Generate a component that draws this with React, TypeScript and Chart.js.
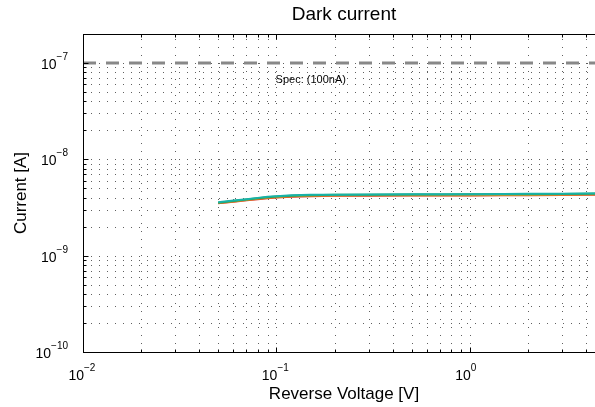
import React, { useEffect, useRef } from 'react';
import { Chart, registerables } from 'chart.js';

Chart.register(...registerables);

// ---- data ----
const voltage = [0.05, 0.06, 0.07, 0.08, 0.09, 0.1, 0.12, 0.15, 0.2, 0.3, 0.5, 0.7, 1, 1.5, 2, 3, 4, 5];
const currentTeal = [3.58e-9, 3.73e-9, 3.86e-9, 3.98e-9, 4.08e-9, 4.15e-9, 4.23e-9, 4.28e-9, 4.3e-9, 4.32e-9, 4.33e-9, 4.34e-9, 4.35e-9, 4.36e-9, 4.38e-9, 4.4e-9, 4.42e-9, 4.45e-9];
const currentGreen = [3.55e-9, 3.7e-9, 3.83e-9, 3.95e-9, 4.05e-9, 4.12e-9, 4.2e-9, 4.25e-9, 4.28e-9, 4.3e-9, 4.31e-9, 4.32e-9, 4.33e-9, 4.34e-9, 4.35e-9, 4.37e-9, 4.4e-9, 4.42e-9];
const currentOrange = [3.52e-9, 3.65e-9, 3.78e-9, 3.89e-9, 3.98e-9, 4.05e-9, 4.13e-9, 4.18e-9, 4.21e-9, 4.23e-9, 4.24e-9, 4.25e-9, 4.25e-9, 4.26e-9, 4.27e-9, 4.29e-9, 4.31e-9, 4.33e-9];
const currentRed = [3.5e-9, 3.62e-9, 3.75e-9, 3.86e-9, 3.95e-9, 4.02e-9, 4.1e-9, 4.15e-9, 4.18e-9, 4.2e-9, 4.21e-9, 4.22e-9, 4.22e-9, 4.23e-9, 4.24e-9, 4.26e-9, 4.28e-9, 4.3e-9];
const specVoltage = [0.01, 5];
const specCurrent = [1e-7, 1e-7];
const specLabel = 'Spec: (100nA)';
const xTickExponents = [-2, -1, 0];
const yTickExponents = [-10, -9, -8, -7];
const xRange = [0.01, 5];
const yRange = [1e-10, 2e-7];

const FONT = '"Liberation Sans", Arial, Helvetica, sans-serif';

const pts = (xs: number[], ys: number[]) => xs.map((x, i) => ({ x, y: ys[i] }));

function logTicks(min: number, max: number): { v: number; major: boolean }[] {
  const out: { v: number; major: boolean }[] = [];
  const e0 = Math.floor(Math.log10(min));
  const e1 = Math.ceil(Math.log10(max));
  for (let e = e0; e <= e1; e++) {
    for (let m = 1; m <= 9; m++) {
      const v = m * Math.pow(10, e);
      if (v >= min * 0.9999 && v <= max * 1.0001) out.push({ v, major: m === 1 });
    }
  }
  return out;
}

const matlabPlugin = {
  id: 'matlabAxes',
  beforeDatasetsDraw(chart: any) {
    const { ctx, chartArea: a } = chart;
    const x = chart.scales.x;
    const y = chart.scales.y;
    ctx.save();
    ctx.beginPath();
    ctx.rect(a.left, a.top, a.right - a.left, a.bottom - a.top);
    ctx.clip();
    ctx.strokeStyle = '#606060';
    ctx.lineWidth = 1;
    ctx.setLineDash([1, 7]);
    for (const t of logTicks(x.min, x.max)) {
      const px = Math.round(x.getPixelForValue(t.v)) + 0.5;
      ctx.beginPath();
      ctx.moveTo(px, a.bottom);
      ctx.lineTo(px, a.top);
      ctx.stroke();
    }
    for (const t of logTicks(y.min, y.max)) {
      const py = Math.round(y.getPixelForValue(t.v)) + 0.5;
      ctx.beginPath();
      ctx.moveTo(a.left, py);
      ctx.lineTo(a.right, py);
      ctx.stroke();
    }
    ctx.restore();
  },
  afterDatasetsDraw(chart: any) {
    const { ctx, chartArea: a } = chart;
    const x = chart.scales.x;
    const y = chart.scales.y;
    ctx.save();
    // box
    ctx.strokeStyle = '#000';
    ctx.lineWidth = 1;
    ctx.setLineDash([]);
    const L = Math.round(a.left) + 0.5, R = Math.round(a.right) + 0.5;
    const T = Math.round(a.top) + 0.5, B = Math.round(a.bottom) + 0.5;
    ctx.strokeRect(L, T, R - L, B - T);
    // ticks inward
    ctx.beginPath();
    for (const t of logTicks(x.min, x.max)) {
      const px = Math.round(x.getPixelForValue(t.v)) + 0.5;
      const len = t.major ? 5 : 3;
      ctx.moveTo(px, B); ctx.lineTo(px, B - len);
      ctx.moveTo(px, T); ctx.lineTo(px, T + len);
    }
    for (const t of logTicks(y.min, y.max)) {
      const py = Math.round(y.getPixelForValue(t.v)) + 0.5;
      const len = t.major ? 5 : 3;
      ctx.moveTo(L, py); ctx.lineTo(L + len, py);
      ctx.moveTo(R, py); ctx.lineTo(R - len, py);
    }
    ctx.stroke();

    // tick labels with superscripts
    ctx.fillStyle = '#000';
    const baseFont = `14px ${FONT}`;
    const expFont = `10px ${FONT}`;
    for (const e of yTickExponents) {
      const py = y.getPixelForValue(Math.pow(10, e));
      const expText = e < 0 ? '\u2212' + Math.abs(e) : String(e);
      ctx.font = baseFont;
      const w1 = ctx.measureText('10').width;
      ctx.font = expFont;
      const w2 = ctx.measureText(expText).width;
      const xr = a.left - 15;
      ctx.textBaseline = 'alphabetic';
      ctx.textAlign = 'left';
      ctx.font = baseFont;
      ctx.fillText('10', xr - w1 - w2, py + 6);
      ctx.font = expFont;
      ctx.fillText(expText, xr - w2, py - 3);
    }
    for (const e of xTickExponents) {
      const px = x.getPixelForValue(Math.pow(10, e));
      const expText = e < 0 ? '\u2212' + Math.abs(e) : String(e);
      ctx.textBaseline = 'alphabetic';
      ctx.font = baseFont;
      ctx.textAlign = 'right';
      ctx.fillText('10', px + 1, a.bottom + 28);
      ctx.font = expFont;
      ctx.textAlign = 'left';
      ctx.fillText(expText, px + 1, a.bottom + 19);
    }

    // spec annotation
    ctx.font = `11px ${FONT}`;
    ctx.textAlign = 'left';
    ctx.textBaseline = 'middle';
    ctx.fillText(specLabel, x.getPixelForValue(0.099), y.getPixelForValue(specCurrent[0]) + 17);
    ctx.restore();
  },
};

export default function App() {
  const ref = useRef<HTMLCanvasElement | null>(null);
  useEffect(() => {
    if (!ref.current) return;
    const line = (label: string, data: number[], color: string) => ({
      label,
      data: pts(voltage, data),
      borderColor: color,
      backgroundColor: color,
      borderWidth: 2,
      pointRadius: 0,
      tension: 0,
      fill: false,
    });
    const chart = new Chart(ref.current, {
      type: 'line',
      data: {
        datasets: [
          line('Device 4', currentTeal, 'rgb(24,178,168)'),
          line('Device 3', currentGreen, 'rgb(44,160,70)'),
          line('Device 2', currentOrange, 'rgb(228,140,40)'),
          line('Device 1', currentRed, 'rgb(215,45,35)'),
          {
            label: 'Spec',
            data: pts(specVoltage, specCurrent),
            borderColor: 'rgb(136,136,136)',
            borderWidth: 3,
            borderDash: [13, 10],
            pointRadius: 0,
            fill: false,
          } as any,
        ],
      },
      plugins: [matlabPlugin],
      options: {
        responsive: false,
        animation: false,
        devicePixelRatio: 1,
        layout: { padding: { left: 0, right: 10, top: 0, bottom: 0 } },
        plugins: {
          legend: { display: false },
          tooltip: { enabled: false },
          title: {
            display: true,
            text: 'Dark current',
            fullSize: false,
            color: '#000',
            font: { family: FONT, size: 19, weight: 'normal' },
            padding: { top: 3.6, bottom: 7.6 },
          },
        },
        scales: {
          x: {
            type: 'logarithmic',
            position: 'bottom',
            min: xRange[0],
            max: xRange[1],
            grid: { display: false },
            border: { display: false },
            ticks: { display: false },
            title: {
              display: true,
              text: 'Reverse Voltage [V]',
              color: '#000',
              font: { family: FONT, size: 17 },
              padding: { top: 0, bottom: 2 },
            },
            afterFit: (s: any) => { s.height = 55; },
          },
          y: {
            type: 'logarithmic',
            position: 'left',
            min: yRange[0],
            max: yRange[1],
            grid: { display: false },
            border: { display: false },
            ticks: { display: false },
            title: {
              display: true,
              text: 'Current [A]',
              color: '#000',
              font: { family: FONT, size: 17 },
              padding: { top: 11, bottom: 0 },
            },
            afterFit: (s: any) => { s.width = 83; },
          },
        },
      } as any,
    });
    return () => chart.destroy();
  }, []);
  return (
    <div style={{ position: 'fixed', left: 0, top: 0, width: 595, height: 407, overflow: 'hidden', background: '#fff' }}>
      <canvas ref={ref} width={615} height={407} style={{ display: 'block' }} />
    </div>
  );
}
